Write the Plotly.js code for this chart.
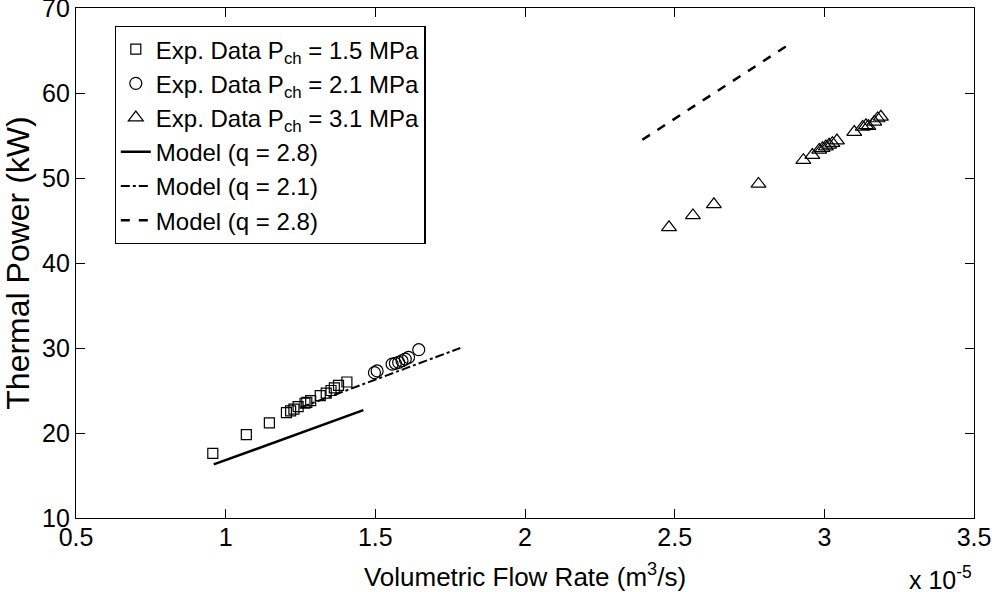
<!DOCTYPE html>
<html>
<head>
<meta charset="utf-8">
<script src="https://cdn.plot.ly/plotly-3.0.1.min.js"></script>
<style>html,body{margin:0;padding:0;background:#fff;}#chart{width:992px;height:592px;}</style>
</head>
<body>
<div id="chart"></div>
<script>
// Flow rate in units of 1e-5 m^3/s, thermal power in kW
const sqX = [0.957,1.069,1.146,1.203,1.217,1.228,1.242,1.265,1.271,1.284,1.316,1.336,1.352,1.363,1.377,1.405];
const sqY = [17.6,19.8,21.2,22.4,22.6,22.8,23.1,23.5,23.6,23.8,24.4,24.7,25.0,25.3,25.6,26.0];
const ciX = [1.497,1.506,1.556,1.567,1.578,1.589,1.600,1.611,1.645];
const ciY = [27.1,27.3,28.1,28.2,28.3,28.5,28.7,28.9,29.8];
const trX = [2.481,2.561,2.631,2.780,2.930,2.960,2.983,2.994,3.005,3.016,3.027,3.042,3.100,3.128,3.139,3.147,3.167,3.178,3.189];
const trY = [44.2,45.6,46.9,49.3,52.1,52.7,53.3,53.5,53.7,53.9,54.1,54.4,55.4,56.0,56.2,56.1,56.6,57.0,57.2];
const m1X = [0.96,1.46];
const m1Y = [16.3,22.7];
const m2X = [1.25,1.784];
const m2Y = [23.0,30.0];
const m3X = [2.392,2.877];
const m3Y = [54.5,65.6];
const xTicks = [0.5,1,1.5,2,2.5,3,3.5];
const yTicks = [10,20,30,40,50,60,70];
const names = ['Exp. Data P<sub>ch</sub> = 1.5 MPa','Exp. Data P<sub>ch</sub> = 2.1 MPa','Exp. Data P<sub>ch</sub> = 3.1 MPa','Model (q = 2.8)','Model (q = 2.1)','Model (q = 2.8)'];

const FONT = 'Liberation Sans, Arial, Helvetica, sans-serif';
const traces = [
  {x: sqX, y: sqY, mode: 'markers', name: names[0], marker: {symbol: 'square-open', size: 10, color: '#000', line: {width: 1.2}}},
  {x: ciX, y: ciY, mode: 'markers', name: names[1], marker: {symbol: 'circle-open', size: 12, color: '#000', line: {width: 1.2}}},
  {x: trX, y: trY, mode: 'markers', name: names[2], marker: {symbol: 'triangle-up-open', size: 13, color: '#000', line: {width: 1.2}}},
  {x: m1X, y: m1Y, mode: 'lines', name: names[3], line: {color: '#000', width: 2.5, dash: 'solid'}},
  {x: m2X, y: m2Y, mode: 'lines', name: names[4], line: {color: '#000', width: 2, dash: 'dashdot'}},
  {x: m3X, y: m3Y, mode: 'lines', name: names[5], line: {color: '#000', width: 2.5, dash: 'dash'}}
];

const axisCommon = {
  showgrid: false, zeroline: false, showline: true, linecolor: '#000', linewidth: 1.2,
  mirror: 'ticks', ticks: 'inside', ticklen: 9, tickwidth: 1, tickcolor: '#000',
  ticklabeloverflow: 'allow',
  tickfont: {family: FONT, size: 25, color: '#000'}
};

const layout = {
  width: 992, height: 592,
  margin: {l: 76, r: 18, t: 8, b: 74},
  paper_bgcolor: '#fff', plot_bgcolor: '#fff',
  font: {family: FONT, color: '#000'},
  xaxis: Object.assign({}, axisCommon, {
    range: [0.5, 3.5], tickvals: xTicks, ticktext: xTicks.map(String), ticklabelstandoff: -3,
    title: {text: 'Volumetric Flow Rate (m<sup>3</sup>/s)', font: {family: FONT, size: 26, color: '#000'}}
  }),
  yaxis: Object.assign({}, axisCommon, {
    range: [10, 70], tickvals: yTicks, ticktext: yTicks.map(String), ticklabelstandoff: 0,
    title: {text: 'Thermal Power (kW)', font: {family: FONT, size: 32, color: '#000'}}
  }),
  showlegend: true,
  legend: {
    x: 0.043, y: 0.965, xanchor: 'left', yanchor: 'top',
    bgcolor: '#fff', bordercolor: '#000', borderwidth: 1.2,
    font: {family: FONT, size: 24, color: '#000'},
    tracegroupgap: 0, itemwidth: 30
  },
  annotations: [{
    xref: 'paper', yref: 'paper', x: 1.0, y: 0, xanchor: 'right', yanchor: 'middle', yshift: -60,
    text: 'x 10<sup>-5</sup>', showarrow: false, font: {family: FONT, size: 25, color: '#000'}
  }]
};

Plotly.newPlot('chart', traces, layout, {staticPlot: true, displayModeBar: false});
</script>
</body>
</html>
